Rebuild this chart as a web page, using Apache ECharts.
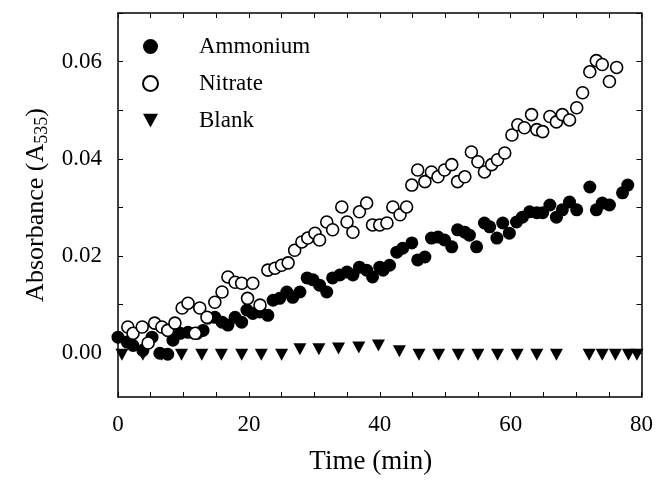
<!DOCTYPE html>
<html>
<head>
<meta charset="utf-8">
<script src="https://cdn.jsdelivr.net/npm/echarts@6/dist/echarts.min.js"></script>
<style>
  html, body { margin: 0; padding: 0; background: #fff; }
  #chart { width: 656px; height: 480px; }
</style>
</head>
<body>
<div id="chart"></div>
<script>
// values (time in min, absorbance)
var ammoniumTime = [0.0, 1.4, 2.3, 3.8, 5.2, 6.4, 7.6, 8.4, 9.5, 10.7, 12.1, 13.0, 13.7, 14.8, 15.9, 16.8, 17.9, 18.9, 19.7, 20.6,
    21.7, 22.9, 23.7, 24.7, 25.8, 26.7, 27.8, 28.9, 29.8, 30.8, 31.9, 32.8, 33.9, 35.0, 35.9, 36.9, 38.0, 38.9, 40.0, 40.5,
    41.5, 42.6, 43.5, 44.9, 45.8, 46.9, 47.9, 48.9, 49.9, 51.0, 51.9, 53.0, 53.7, 54.8, 56.0, 56.8, 57.9, 58.8, 59.8, 60.9,
    61.8, 62.9, 64.0, 64.9, 66.0, 67.0, 67.9, 69.0, 70.1, 72.1, 73.1, 74.0, 75.1, 77.1, 77.9];
var ammoniumValue = [0.0033, 0.0023, 0.0016, 0.0006, 0.0033, 0.0000, -0.0002, 0.0027, 0.0041, 0.0043, 0.0041, 0.0047, 0.0072, 0.0074, 0.0064, 0.0058, 0.0074, 0.0064, 0.0089, 0.0082,
    0.0085, 0.0078, 0.0109, 0.0113, 0.0126, 0.0115, 0.0126, 0.0155, 0.0151, 0.0140, 0.0126, 0.0155, 0.0161, 0.0167, 0.0161, 0.0177, 0.0171, 0.0157, 0.0177, 0.0171,
    0.0181, 0.0208, 0.0216, 0.0227, 0.0192, 0.0198, 0.0237, 0.0239, 0.0233, 0.0219, 0.0254, 0.0249, 0.0243, 0.0219, 0.0268, 0.0260, 0.0237, 0.0268, 0.0247, 0.0270,
    0.0280, 0.0291, 0.0289, 0.0289, 0.0305, 0.0280, 0.0295, 0.0311, 0.0295, 0.0342, 0.0295, 0.0309, 0.0305, 0.0330, 0.0346];

var nitrateTime = [1.5, 2.3, 3.7, 4.6, 5.6, 6.7, 7.6, 8.7, 9.8, 10.7, 11.8, 12.5, 13.6, 14.8, 15.9, 16.8, 17.9, 18.9, 19.8, 20.6,
    21.7, 22.9, 24.0, 25.0, 26.0, 27.0, 28.1, 29.0, 30.1, 30.8, 31.9, 32.8, 34.2, 35.0, 35.9, 36.9, 38.0, 38.9, 40.0, 41.1,
    42.0, 43.1, 44.1, 44.9, 45.8, 46.9, 47.9, 48.9, 49.9, 51.0, 51.9, 53.0, 54.0, 55.0, 56.0, 57.1, 58.0, 59.1, 60.2, 61.1,
    62.1, 63.2, 64.0, 64.9, 66.0, 67.0, 67.9, 69.0, 70.1, 71.0, 72.1, 73.1, 74.0, 75.1, 76.2];
var nitrateValue = [0.0054, 0.0041, 0.0054, 0.0021, 0.0062, 0.0054, 0.0047, 0.0062, 0.0093, 0.0103, 0.0041, 0.0093, 0.0074, 0.0105, 0.0126, 0.0157, 0.0146, 0.0144, 0.0113, 0.0144,
    0.0099, 0.0171, 0.0175, 0.0181, 0.0186, 0.0212, 0.0229, 0.0237, 0.0247, 0.0233, 0.0270, 0.0254, 0.0301, 0.0270, 0.0249, 0.0291, 0.0309, 0.0264, 0.0264, 0.0268,
    0.0301, 0.0285, 0.0301, 0.0346, 0.0377, 0.0353, 0.0373, 0.0363, 0.0377, 0.0388, 0.0353, 0.0363, 0.0414, 0.0394, 0.0373, 0.0388, 0.0398, 0.0412, 0.0449, 0.0470,
    0.0464, 0.0491, 0.0460, 0.0456, 0.0487, 0.0476, 0.0491, 0.0480, 0.0505, 0.0536, 0.0579, 0.0602, 0.0594, 0.0559, 0.0588];

var blankTime = [0.6, 3.8, 6.7, 9.7, 12.8, 15.8, 18.9, 21.9, 25.0, 27.8, 30.7, 33.7, 36.8, 39.8, 43.0, 46.0, 49.0, 52.0, 55.0, 58.0,
    61.0, 64.0, 67.0, 72.0, 74.0, 76.0, 78.0, 79.3];
var blankValue = [-0.0003, -0.0003, -0.0003, -0.0003, -0.0003, -0.0003, -0.0003, -0.0003, -0.0003, 0.0008, 0.0008, 0.0010, 0.0012, 0.0016, 0.0004, -0.0003, -0.0003, -0.0003, -0.0003, -0.0003,
    -0.0003, -0.0003, -0.0003, -0.0003, -0.0003, -0.0003, -0.0003, -0.0003];

var xTicks = [0, 5, 10, 15, 20, 25, 30, 35, 40, 45, 50, 55, 60, 65, 70, 75, 80];
var xLabels = [0, 20, 40, 60, 80];
var yTicks = [0, 0.01, 0.02, 0.03, 0.04, 0.05, 0.06, 0.07];
var yLabels = [0, 0.02, 0.04, 0.06];

function pairs(xs, ys) {
    return xs.map(function (x, i) { return [x, ys[i]]; });
}

var font = 'Liberation Serif';
var axisLine = { onZero: false, lineStyle: { color: '#000', width: 1.5 } };

function xAxisDef(pos, showLabels) {
    return {
        type: 'value', position: pos, min: 0, max: 80,
        axisLine: axisLine,
        splitLine: { show: false },
        axisTick: { inside: true, length: 5, customValues: xTicks, lineStyle: { color: '#000', width: 1 } },
        axisLabel: {
            show: showLabels, customValues: xLabels, margin: 16,
            color: '#000', fontFamily: font, fontSize: 23
        }
    };
}

function yAxisDef(pos, showLabels) {
    return {
        type: 'value', position: pos, min: -0.009, max: 0.07,
        axisLine: axisLine,
        splitLine: { show: false },
        axisTick: { inside: true, length: 5, customValues: yTicks, lineStyle: { color: '#000', width: 1 } },
        axisLabel: {
            show: showLabels, customValues: yLabels, margin: 16,
            color: '#000', fontFamily: font, fontSize: 23,
            formatter: function (v) { return v.toFixed(2); }
        }
    };
}

var chart = echarts.init(document.getElementById('chart'));

var xMain = xAxisDef('bottom', true);
xMain.name = 'Time (min)';
xMain.nameLocation = 'middle';
xMain.nameGap = 51;
xMain.nameTextStyle = { color: '#000', fontFamily: font, fontSize: 27, padding: [0, 18, 0, 0] };

var yMain = yAxisDef('left', true);
yMain.name = 'Absorbance (A{sub|535})';
yMain.nameLocation = 'middle';
yMain.nameGap = 80;
yMain.nameTextStyle = {
    color: '#000', fontFamily: font, fontSize: 26, lineHeight: 30, verticalAlign: 'middle',
    rich: {
        sub: { fontFamily: font, fontSize: 18, lineHeight: 16, verticalAlign: 'bottom', color: '#000' }
    }
};

var option = {
    animation: false,
    backgroundColor: '#fff',
    grid: { left: 118, right: 14, top: 13, bottom: 82 },
    legend: {
        orient: 'vertical', left: 137, top: 30,
        itemWidth: 15, itemHeight: 15, itemGap: 14,
        textStyle: { color: '#000', fontFamily: font, fontSize: 23, padding: [0, 0, 0, 36] },
        data: [
            { name: 'Ammonium', icon: 'circle' },
            { name: 'Nitrate', icon: 'circle' },
            { name: 'Blank', icon: 'path://M0,0L12,0L6,11Z' }
        ]
    },
    xAxis: [xMain, xAxisDef('top', false)],
    yAxis: [yMain, yAxisDef('right', false)],
    series: [
        {
            name: 'Ammonium', type: 'scatter', symbol: 'circle', symbolSize: 13,
            itemStyle: { color: '#000', opacity: 1 },
            data: pairs(ammoniumTime, ammoniumValue)
        },
        {
            name: 'Nitrate', type: 'scatter', symbol: 'circle', symbolSize: 12,
            itemStyle: { color: '#fff', borderColor: '#000', borderWidth: 1.6, opacity: 1 },
            data: pairs(nitrateTime, nitrateValue)
        },
        {
            name: 'Blank', type: 'scatter', symbol: 'triangle', symbolSize: [13, 12], symbolRotate: 180,
            itemStyle: { color: '#000', opacity: 1 },
            data: pairs(blankTime, blankValue)
        }
    ]
};

chart.setOption(option);
</script>
</body>
</html>
